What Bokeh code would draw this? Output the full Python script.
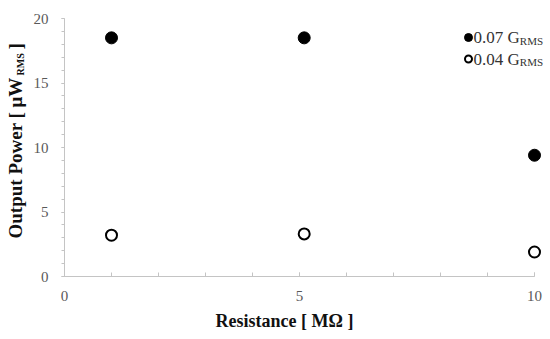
from math import pi
from bokeh.plotting import figure
from bokeh.layouts import row
from bokeh.models import Label, Range1d, FixedTicker, Title
from bokeh.core.properties import value
from bokeh.embed import file_html
from bokeh.resources import INLINE

# ---- data ----
resistance = [1.0, 5.1, 10.0]
power_007 = [18.5, 18.5, 9.4]
power_004 = [3.2, 3.3, 1.9]
x_ticks = [0, 5, 10]
x_minor = [0, 1, 2, 3, 4, 5, 6, 7, 8, 9, 10]
y_ticks = [0, 5, 10, 15, 20]
y_minor = list(range(0, 21))
legend_labels = ["0.07 G", "0.04 G"]
legend_sub = "RMS"
x_label = "Resistance [ MΩ ]"
y_label_main = "Output Power [ μW"
y_label_sub = "RMS"
y_label_end = "]"

# ---- layout (page pixels) ----
TOTAL_W, H = 550, 339
LW = 30                       # narrow strip holding the rotated y label
W = TOTAL_W - LW
FRAME_L, FRAME_R = 64, 546    # page x of frame edges
FRAME_T, FRAME_B = 18, 276    # page y of frame edges
X_PER = 47.0                  # px per x unit
YMAX = 20
XMAX = (FRAME_R - FRAME_L) / X_PER
Y_PER = (FRAME_B - FRAME_T) / YMAX
SERIF = "Liberation Serif"
TXT = "#111111"


def dx(px):
    return (px - FRAME_L) / X_PER


def dy(py):
    return (FRAME_B - py) / Y_PER


p = figure(width=W, height=H, x_range=Range1d(0, XMAX), y_range=Range1d(0, YMAX),
           output_backend="svg", toolbar_location=None,
           min_border_left=FRAME_L - LW, min_border_right=TOTAL_W - FRAME_R,
           min_border_top=FRAME_T, min_border_bottom=H - FRAME_B)
p.outline_line_color = None
p.grid.visible = False

AX = "#c4c4c4"
for ax in (p.xaxis[0], p.yaxis[0]):
    ax.axis_line_color = AX
    ax.major_tick_line_color = AX
    ax.minor_tick_line_color = AX
    ax.major_label_text_font = SERIF
    ax.major_label_text_font_size = "15px"
    ax.major_label_text_color = "#595959"

xa = p.xaxis[0]
xa.ticker = FixedTicker(ticks=x_ticks, minor_ticks=x_minor)
xa.bounds = (0, 10)
xa.major_tick_in = 4
xa.major_tick_out = 0
xa.minor_tick_in = 4
xa.minor_tick_out = 0
xa.major_label_standoff = 14

ya = p.yaxis[0]
ya.ticker = FixedTicker(ticks=y_ticks, minor_ticks=y_minor)
ya.major_tick_in = 0
ya.major_tick_out = 3
ya.minor_tick_in = 0
ya.minor_tick_out = 3
ya.major_label_standoff = 13

# x-axis title (slightly left of centre, as in the original)
p.add_layout(Title(text=x_label, align="left", offset=151, standoff=11, text_font=SERIF,
                   text_font_style="bold", text_font_size="18px", text_color=TXT), "below")

# data points
p.scatter(resistance, power_007, size=12, marker="circle", fill_color="black", line_color="black")
p.scatter(resistance, power_004, size=11, marker="circle", fill_color="white", line_color="black",
          line_width=2)

# legend (drawn inside the frame)
rows = [37, 58.5]
mx = 468
p.scatter([dx(mx)], [dy(rows[0])], size=8, marker="circle", fill_color="black", line_color="black")
p.scatter([dx(mx)], [dy(rows[1])], size=7, marker="circle", fill_color="white", line_color="black",
          line_width=2)
for r, lab in zip(rows, legend_labels):
    p.add_layout(Label(x=dx(473), y=dy(r), text=lab, text_font=SERIF, text_font_size="17px",
                       text_align="left", text_baseline="middle", text_color="#333333"))
    p.add_layout(Label(x=dx(473 + 46.3), y=dy(r + 3), text=legend_sub, text_font=SERIF,
                       text_font_size="11px", text_align="left", text_baseline="middle",
                       text_color="#333333"))

# left strip with the rotated y-axis label; its frame is aligned with the main frame,
# so its y range is expressed in page pixels (y = H - page_y)
s = figure(width=LW, height=H, x_range=Range1d(0, LW), y_range=Range1d(H - FRAME_B, H - FRAME_T),
           output_backend="svg", toolbar_location=None,
           min_border_left=0, min_border_right=0, min_border_top=FRAME_T, min_border_bottom=H - FRAME_B)
s.axis.visible = False
s.grid.visible = False
s.outline_line_color = None

cx = 15
start = 238                   # page y where the label starts (bottom)
main_len = 160
s.text(x=[cx], y=[H - start], text=[y_label_main], angle=pi / 2, text_font=value(SERIF),
       text_font_style="bold", text_font_size="19px", text_align="left", text_baseline="middle",
       text_color=TXT)
s.text(x=[cx + 5], y=[H - (start - main_len - 3)], text=[y_label_sub], angle=pi / 2,
       text_font=value(SERIF), text_font_style="bold", text_font_size="10px", text_align="left",
       text_baseline="middle", text_color=TXT)
s.text(x=[cx], y=[H - (start - main_len - 3 - 22 - 4)], text=[y_label_end], angle=pi / 2,
       text_font=value(SERIF), text_font_style="bold", text_font_size="19px", text_align="left",
       text_baseline="middle", text_color=TXT)

layout = row(s, p, spacing=0)
open("out.html", "w").write(file_html(layout, INLINE))
